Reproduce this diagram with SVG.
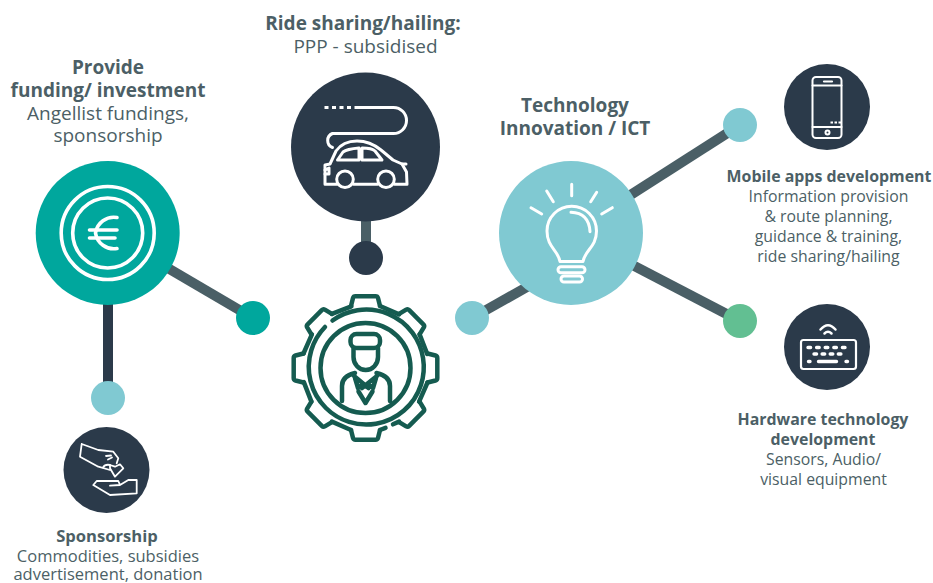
<svg xmlns="http://www.w3.org/2000/svg" width="933" height="583" viewBox="0 0 933 583">
<style>
text{font-family:"Open Sans","Noto Sans","Liberation Sans",sans-serif;fill:#4c5f66;text-anchor:middle}
.l{font-size:19px}.lb{font-size:19px;font-weight:700}
.s{font-size:15.800px}.sb{font-size:15.900px;font-weight:700}
.s2{font-size:16.500px}.sb2{font-size:16.600px;font-weight:700}
.w{fill:none;stroke:#fff;stroke-linecap:round;stroke-linejoin:round}
.g{fill:none;stroke:#155b50;stroke-width:4.500;stroke-linecap:round;stroke-linejoin:round}
.c{fill:none;stroke-width:10}
</style>
<defs>
<path id="tooth" d="M-14.500-62-12.500-70Q-12-71.800-10-71.800H10Q12-71.800 12.500-70L14.500-62"/>
<path id="root" d="M14.500-62 33.600-53.600"/>
</defs>
<g id="connectors">
<path class="c" stroke="#4a5f66" d="M108 233 253 318"/>
<path class="c" stroke="#2b3a4a" d="M108 233V398"/>
<path class="c" stroke="#4a5f66" d="M366 147V258"/>
<path class="c" stroke="#4a5f66" d="M472 318 571 262"/>
<path class="c" stroke="#4a5f66" d="M571 233 740 125"/>
<path class="c" stroke="#4a5f66" d="M571 233 740 321"/>
</g>
<g id="dot-teal"><circle cx="253" cy="318" r="17" fill="#00a79d"/></g>
<g id="dot-navy"><circle cx="366" cy="258" r="17" fill="#2b3a4a"/></g>
<g id="dot-left"><circle cx="472" cy="318" r="17" fill="#80c9d2"/></g>
<g id="dot-top"><circle cx="740" cy="125" r="17" fill="#80c9d2"/></g>
<g id="dot-green"><circle cx="740" cy="321" r="17" fill="#62bf92"/></g>
<g id="dot-sponsor"><circle cx="108" cy="398" r="17" fill="#80c9d2"/></g>

<g id="funding">
<circle cx="107.700" cy="233" r="72" fill="#00a79d"/>
<g class="w" stroke-width="3.600"><circle cx="107.700" cy="233" r="46.500"/><circle cx="107.700" cy="233" r="35"/>
<path d="M117 217.500A18.500 18.500 0 0 0 95.500 233 18.500 18.500 0 0 0 117 248.500"/><path d="M89.500 230H117M89.500 238H115"/></g>
<text class="lb" x="108" y="74">Provide</text><text class="lb" x="108" y="97">funding/ investment</text>
<text class="l" x="108" y="120">Angellist fundings,</text><text class="l" x="108" y="142">sponsorship</text>
</g>

<g id="ride">
<circle cx="365.500" cy="147" r="74.500" fill="#2b3a4a"/>
<g class="w" stroke-width="3">
<path d="M324.500 107.500H358" stroke-dasharray="4 3.500" stroke-linecap="butt"/>
<path d="M358 107.500H393.500A13 13 0 0 1 393.500 133.500H332.500A7.500 7.500 0 0 0 332.500 147.500"/>
<path d="M337 184.300H325V165L330 164 336 151Q343 141 357 141 370 141 381 150L393 160 402 164 406.500 172 407 184.300H394.500M353.500 184.300H377.500"/>
<circle cx="345" cy="179.300" r="8.300"/><circle cx="386" cy="179.300" r="8.300"/>
<path d="M337.500 160 343 152Q347 149 359 148V160ZM362 148Q372 148 375 151L382 160H362Z"/>
<path d="M325 170 329 168V174H325M402 164H406"/>
</g>
<text class="lb" x="363" y="30">Ride sharing/hailing:</text><text class="l" x="365.500" y="53">PPP - subsidised</text>
</g>

<g id="center-gear">
<g transform="translate(365.500 368)" class="g">
<use href="#tooth"/><use href="#tooth" transform="rotate(45)"/><use href="#tooth" transform="rotate(90)"/><use href="#tooth" transform="rotate(135)"/><use href="#tooth" transform="rotate(180)"/><use href="#tooth" transform="rotate(225)"/><use href="#tooth" transform="rotate(270)"/><use href="#tooth" transform="rotate(315)"/>
<use href="#root"/><use href="#root" transform="rotate(45)"/><use href="#root" transform="rotate(90)"/>
<use href="#root" transform="rotate(180)"/><use href="#root" transform="rotate(225)"/><use href="#root" transform="rotate(270)"/><use href="#root" transform="rotate(315)"/>
<path d="M14.500 62 20 59.800M27.500 56.300 33.600 53.600"/>
<path d="M-40.500-41A57.500 57.500 0 1 0-33-47.500"/>
<circle r="45"/>
</g>
<g class="g">
<rect x="350.500" y="334" width="29.500" height="14" rx="6"/>
<path d="M353.500 348V357A12.200 13 0 0 0 378 357V348"/>
<path d="M342 401V386Q342 376 355 373M390 401V386Q390 376 376.500 373"/>
<path d="M354 376 368.500 388M377 376 362 388M355 378 358 388 362.500 384M376 378 373 388 368.500 384"/>
<path d="M358.500 391.500 365.500 403 372.500 391.500"/>
</g>
</g>

<g id="technology">
<circle cx="571" cy="233" r="72" fill="#80c9d2"/>
<g class="w" stroke-width="3">
<path d="M560 261.500C558 250 547 247 547 231A24.700 24.700 0 0 1 596.500 231C596.500 247 585 250 583 261.500Z"/>
<path d="M571 212.300Q589 213 590 231.700"/>
<rect x="558" y="266.800" width="27" height="6" rx="3"/><rect x="561" y="276" width="21.500" height="6" rx="3"/>
<path d="M571.700 184.300V195.700M546.700 191 553.300 201.700M596.700 192.300 590.700 201.700M531 207.700 541.700 214M612.300 207.700 601.700 214"/>
</g>
<text class="lb" x="575" y="112">Technology</text><text class="lb" x="575" y="135">Innovation / ICT</text>
</g>

<g id="mobile">
<circle cx="827" cy="107" r="43" fill="#2b3a4a"/>
<g class="w" stroke-width="2">
<rect x="812.500" y="77" width="29" height="61" rx="3.500"/><path d="M812.500 85.500H841.500M812.500 127H841.500"/>
<path d="M824 81.500H832" stroke-width="2.200"/>
<circle cx="827.500" cy="132.500" r="2"/>
<path d="M830.500 122.500H841" stroke-dasharray="2.500 1.500" stroke-linecap="butt" stroke-width="2.200"/>
</g>
<text class="sb" x="829" y="182">Mobile apps development</text>
<text class="s" x="828.500" y="202">Information provision</text><text class="s" x="828.500" y="222">&amp; route planning,</text>
<text class="s" x="828.500" y="242">guidance &amp; training,</text><text class="s" x="828.500" y="262">ride sharing/hailing</text>
</g>

<g id="hardware">
<circle cx="827" cy="347" r="43" fill="#2b3a4a"/>
<g class="w" stroke-width="2.200">
<rect x="801" y="340" width="55" height="29" rx="2.500"/>
<path d="M820.500 329.500Q828 321 835.500 329.500M824.500 333.500Q828 330 831.500 333.500" stroke-width="2.500"/>
<path d="M808 347.500H848" stroke-dasharray="2.600 6" stroke-width="3.400"/>
<path d="M814 354H843" stroke-dasharray="2.600 5.500" stroke-width="3.400"/>
<path d="M808.500 361.500H810M818.500 361.500H836.500M846 361.500H847.500" stroke-width="3.400"/>
</g>
<text class="sb" x="823" y="425">Hardware technology</text><text class="sb" x="823" y="445">development</text>
<text class="s" x="823.500" y="465">Sensors, Audio/</text><text class="s" x="823.500" y="485">visual equipment</text>
</g>

<g id="sponsorship">
<circle cx="106.500" cy="470" r="43" fill="#2b3a4a"/>
<g class="w" stroke-width="1.800">
<path d="M81.700 444 80 456.700 98.300 466.700 110 470M81.700 444 98.300 450 113.300 451.700 118.300 458.300 116.700 463.300"/>
<path d="M106 456 111 455.500M108 459.500 112 457.500M103 467.500Q105 464 110 465"/>
<path d="M115 476.700 110 468.300 110 465 115 466.700 120 464.300 123.300 468.300Z"/>
<path d="M93.300 485 96.700 481H118.300L120 485 110 485.700M93.300 485 110 495 136.700 493.300V480H128.300L120 485"/>
</g>
<text class="sb2" x="107" y="542">Sponsorship</text><text class="s2" x="108" y="562">Commodities, subsidies</text><text class="s2" x="108" y="580">advertisement, donation</text>
</g>
</svg>
